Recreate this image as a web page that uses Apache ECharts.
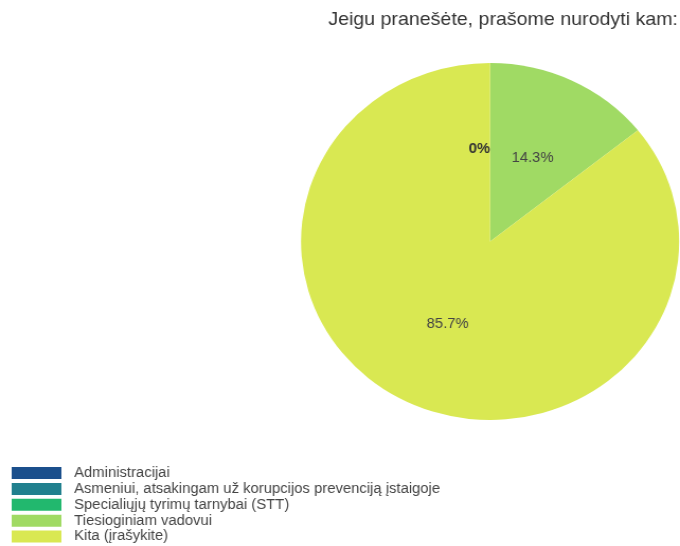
<!DOCTYPE html>
<html>
<head>
<meta charset="utf-8">
<script src="https://cdn.jsdelivr.net/npm/echarts@6/dist/echarts.min.js"></script>
<style>
    html, body { margin: 0; padding: 0; background: #fff; overflow: hidden; }
    /* the reference is a slightly widened picture: draw at 642px and stretch to 680px */
    #main { width: 642px; height: 546px; transform: scaleX(1.0592); transform-origin: 0 0; }
</style>
</head>
<body>
<div id="main"></div>
<script>
var categories = ['Administracijai', 'Asmeniui, atsakingam už korupcijos prevenciją įstaigoje', 'Specialiųjų tyrimų tarnybai (STT)', 'Tiesioginiam vadovui', 'Kita (įrašykite)'];
var counts = [0, 0, 0, 1, 6];
var colors = ['#1b4f8c', '#21808e', '#22b86e', '#a0da64', '#d9e852'];

~function () {
    var myChart = echarts.init(document.getElementById('main'));
    var font = '"Liberation Sans", Arial, sans-serif';
    var option = {
        color: colors,
        animation: false,
        title: {
            text: 'Jeigu pranešėte, prašome nurodyti kam:',
            right: 2,
            top: 10,
            padding: 0,
            textStyle: {fontSize: 18.5, fontWeight: 'normal', color: '#333', fontFamily: font}
        },
        legend: {
            orient: 'vertical',
            left: 11,
            top: 466,
            height: 80,
            padding: 0,
            itemWidth: 47,
            itemHeight: 12,
            itemGap: 1.9,
            icon: 'rect',
            textStyle: {fontSize: 14, lineHeight: 14, color: '#444', fontFamily: font, padding: [0, 0, 0, 7]},
            data: categories
        },
        series: [
            {
                name: 'Jeigu pranešėte',
                type: 'pie',
                radius: 178.5,
                center: [462.7, 241.5],
                startAngle: 90,
                clockwise: true,
                percentPrecision: 1,
                label: {
                    position: 'inside',
                    formatter: '{d}%',
                    fontSize: 14,
                    color: '#444',
                    fontFamily: font
                },
                labelLine: {show: false},
                itemStyle: {borderWidth: 0},
                emphasis: {disabled: true},
                data: categories.map(function (c, i) {
                    var item = {name: c, value: counts[i]};
                    if (counts[i] === 0) {
                        item.label = {fontWeight: 'bold', color: '#333', offset: [-10, 0]};
                    }
                    return item;
                })
            }
        ]
    };
    myChart.setOption(option);
}();
</script>
</body>
</html>
